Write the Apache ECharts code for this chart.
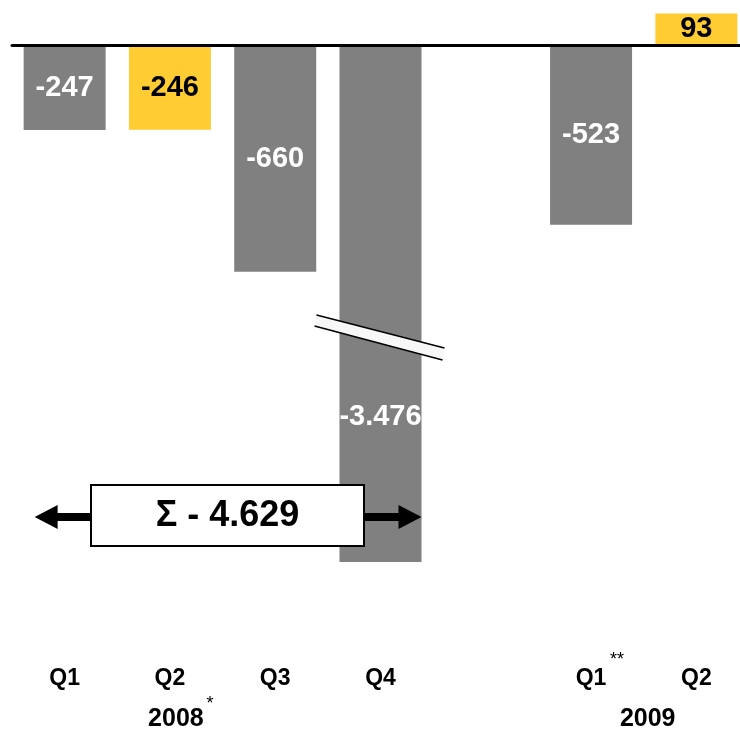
<!DOCTYPE html>
<html>
<head>
<meta charset="utf-8">
<script src="https://cdn.jsdelivr.net/npm/echarts@6/dist/echarts.min.js"></script>
<style>
  html, body { margin: 0; padding: 0; background: #fff; }
  #main { width: 740px; height: 731px; }
</style>
</head>
<body>
<div id="main"></div>
<script>
// quarterly results, 2008 and first half of 2009
const categories = ['Q1 2008', 'Q2 2008', 'Q3 2008', 'Q4 2008', '-', 'Q1 2009', 'Q2 2009'];
const quarterLabels = ['Q1', 'Q2', 'Q3', 'Q4', '', 'Q1', 'Q2'];
const quarterMarks = ['', '', '', '', '', '**', ''];
const yearLabels = ['2008', '2009'];
const yearMarks = ['*', ''];
const values = [-247, -246, -660, -3476, null, -523, 93];
const breakRange = [-2820, -850];

const FONT = "'Liberation Sans', Arial, sans-serif";
const GRAY = '#808080';
const YELLOW = '#FFCC33';

function fmt(v) {
    const s = Math.abs(v).toString().replace(/\B(?=(\d{3})+(?!\d))/g, '.');
    return (v < 0 ? '-' : '') + s;
}

const chart = echarts.init(document.getElementById('main'));

const barData = values.map((v, i) => {
    if (v == null) return '-';
    const yellow = quarterLabels[i] === 'Q2';
    return {
        value: v,
        itemStyle: { color: yellow ? YELLOW : GRAY },
        label: {
            color: yellow ? '#000' : '#fff',
            offset: v < breakRange[0] ? [0, 113] : [0, 0]
        }
    };
});

const option = {
    animation: false,
    grid: { left: 12, top: 11, width: 737, height: 593.5, outerBoundsMode: 'none' },
    xAxis: [
        {
            type: 'category',
            data: categories,
            axisLine: { onZero: true, lineStyle: { color: '#000', width: 3 } },
            axisTick: { show: false },
            axisLabel: { show: false },
            z: 10
        },
        {
            type: 'category',
            data: categories,
            position: 'bottom',
            axisLine: { show: false, onZero: false },
            axisTick: { show: false },
            axisLabel: {
                formatter: (v, i) => quarterLabels[i],
                fontFamily: FONT,
                fontSize: 23,
                fontWeight: 'bold',
                color: '#000',
                margin: 63
            }
        }
    ],
    yAxis: {
        type: 'value',
        min: -3600,
        max: 100,
        axisLine: { show: false },
        axisTick: { show: false },
        axisLabel: { show: false },
        splitLine: { show: false },
        breaks: [{ start: breakRange[0], end: breakRange[1], gap: 0 }],
        breakArea: { show: false }
    },
    series: [
        {
            type: 'bar',
            xAxisIndex: 0,
            barWidth: 82,
            data: barData,
            label: {
                show: true,
                position: 'inside',
                formatter: p => fmt(p.value),
                fontFamily: FONT,
                fontSize: 29,
                fontWeight: 'bold'
            }
        }
    ]
};

chart.setOption(option);

// decorations placed from the chart's own coordinates
const px = i => chart.convertToPixel({ xAxisIndex: 0 }, categories[i]);
const py = v => chart.convertToPixel({ yAxisIndex: 0 }, v);

const bx = px(3), by = py(breakRange[1]);
const total = values.slice(0, 4).reduce((a, b) => a + b, 0);
const leftTip = px(0) - 30, rightTip = px(3) + 41;
const boxL = 91, boxR = 364, ay = 517;

const graphics = [
    // axis break marker on the Q4 bar
    {
        type: 'polygon',
        shape: { points: [[bx - 64, by - 22], [bx + 64, by + 11], [bx + 62, by + 23], [bx - 66, by - 11]] },
        style: { fill: '#f7f7f7' },
        z: 20
    },
    { type: 'line', shape: { x1: bx - 64, y1: by - 22, x2: bx + 64, y2: by + 11 }, style: { stroke: '#000', lineWidth: 1.5 }, z: 21 },
    { type: 'line', shape: { x1: bx - 66, y1: by - 11, x2: bx + 62, y2: by + 23 }, style: { stroke: '#000', lineWidth: 1.5 }, z: 21 },
    // sum arrow
    { type: 'rect', shape: { x: leftTip + 20, y: ay - 4, width: boxL - leftTip - 20, height: 8 }, style: { fill: '#000' }, z: 20 },
    { type: 'polygon', shape: { points: [[leftTip, ay], [leftTip + 23, ay - 12], [leftTip + 23, ay + 12]] }, style: { fill: '#000' }, z: 20 },
    { type: 'rect', shape: { x: boxR, y: ay - 4, width: rightTip - boxR - 20, height: 8 }, style: { fill: '#000' }, z: 20 },
    { type: 'polygon', shape: { points: [[rightTip, ay], [rightTip - 23, ay - 12], [rightTip - 23, ay + 12]] }, style: { fill: '#000' }, z: 20 },
    { type: 'rect', shape: { x: boxL, y: 485, width: boxR - boxL, height: 61 }, style: { fill: '#fff', stroke: '#000', lineWidth: 2 }, z: 22 },
    {
        type: 'text', x: (boxL + boxR) / 2, y: 516, z: 23,
        style: { text: 'Σ - ' + fmt(Math.abs(total)), font: 'bold 36px ' + FONT, fill: '#000', align: 'center', verticalAlign: 'middle' }
    },
    // years and footnote marks
    {
        type: 'text', x: px(1) + 6, y: 719, z: 20,
        style: { text: yearLabels[0], font: 'bold 25px ' + FONT, fill: '#000', align: 'center', verticalAlign: 'middle' }
    },
    {
        type: 'text', x: px(1) + 40, y: 704, z: 20,
        style: { text: yearMarks[0], font: '18px ' + FONT, fill: '#000', align: 'center', verticalAlign: 'middle' }
    },
    {
        type: 'text', x: (px(5) + px(6)) / 2 + 4, y: 719, z: 20,
        style: { text: yearLabels[1], font: 'bold 25px ' + FONT, fill: '#000', align: 'center', verticalAlign: 'middle' }
    }
];

quarterMarks.forEach((m, i) => {
    if (!m) return;
    graphics.push({
        type: 'text', x: px(i) + 26, y: 660, z: 20,
        style: { text: m, font: '18px ' + FONT, fill: '#000', align: 'center', verticalAlign: 'middle' }
    });
});

chart.setOption({ graphic: graphics });
</script>
</body>
</html>
